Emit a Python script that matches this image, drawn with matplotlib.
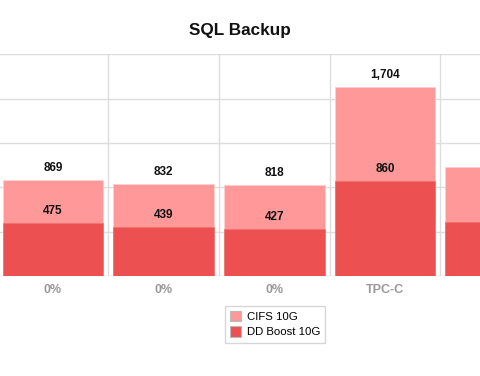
import matplotlib.pyplot as plt
import numpy as np

# Data
categories = ["0%", "0%", "0%", "TPC-C", "0%"]
cifs_10g = [869, 832, 818, 1704, 980]
ddboost_10g = [475, 439, 427, 860, 490]

plt.rcParams['font.family'] = ['Liberation Sans', 'DejaVu Sans']

fig = plt.figure(figsize=(4.8, 3.76), dpi=100)
# plot area runs past both edges of the picture
ax = fig.add_axes([0.0, 0.266, 1.0, 0.59])

x = np.arange(len(categories))
width = 0.91
light = "#ff9999"
dark = "#ec5050"

bars1 = ax.bar(x, cifs_10g, width, color=light, edgecolor="#ffd0d0", linewidth=0.5,
               label="CIFS 10G", zorder=2)
bars2 = ax.bar(x, ddboost_10g, width, color=dark, edgecolor="#f07070", linewidth=0.5,
               label="DD Boost 10G", zorder=3)

# value labels above each bar
for b, v in zip(bars1, cifs_10g):
    ax.annotate(f"{v:,}", (b.get_x() + b.get_width() / 2, v), xytext=(0, 8.5),
                textcoords="offset points", ha="center", va="center",
                fontsize=8.5, fontweight="bold", color="#111111", zorder=5)
for b, v in zip(bars2, ddboost_10g):
    ax.annotate(f"{v:,}", (b.get_x() + b.get_width() / 2, v), xytext=(0, 8.5),
                textcoords="offset points", ha="center", va="center",
                fontsize=8.5, fontweight="bold", color="#111111", zorder=5)

ax.set_ylim(0, 2000)
ax.set_yticks(np.arange(0, 2001, 400))
ax.set_yticklabels([])
ax.set_xticks(x)
ax.set_xticklabels(categories, fontsize=9, fontweight="bold", color="#999999")
ax.tick_params(axis="both", length=0, pad=6)

# grid: horizontal at ticks, vertical between categories
ax.set_axisbelow(True)
ax.grid(axis="y", color="#dddddd", linewidth=1)
for xv in np.arange(-0.5, len(categories), 1):
    ax.axvline(xv, color="#dddddd", linewidth=1, zorder=0)
for s in ax.spines.values():
    s.set_visible(False)
ax.axhline(0, color="#dddddd", linewidth=1, zorder=1)
ax.set_xlim(-0.479, 3.857)

fig.text(0.5, 0.92, "SQL Backup", ha="center", va="center",
         fontsize=12.3, fontweight="bold", color="#111111")

leg = fig.legend(loc="center", bbox_to_anchor=(0.573, 0.138), fontsize=8.2,
                 frameon=True, fancybox=False, edgecolor="#cccccc",
                 handlelength=1.0, handleheight=1.0, handletextpad=0.5,
                 borderpad=0.45, labelspacing=0.4)
for h in leg.legend_handles:
    h.set_edgecolor("#bbbbbb")
    h.set_linewidth(0.8)

fig.savefig("out.png", dpi=100)
